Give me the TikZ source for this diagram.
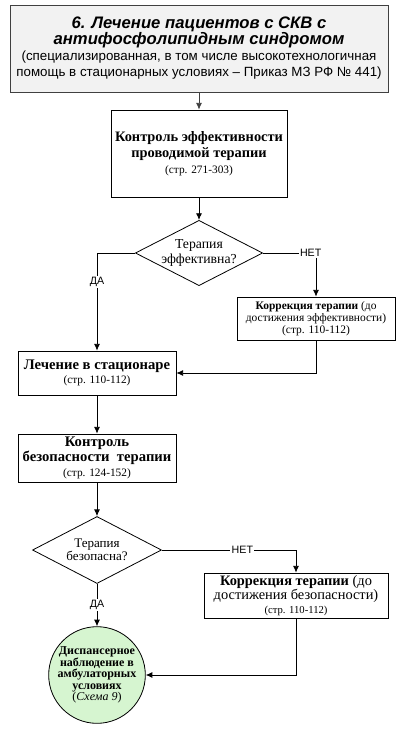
\documentclass[tikz,border=0pt]{standalone}
\usepackage{fontspec}
\setmainfont{Liberation Serif}
\setsansfont{Liberation Sans}
\usetikzlibrary{shapes.geometric,arrows.meta}
\definecolor{linegray}{RGB}{64,64,64}
\definecolor{headfill}{RGB}{242,242,242}
\definecolor{dispgreen}{RGB}{214,245,208}
\begin{document}
\begin{tikzpicture}[x=0.75pt,y=-0.75pt]

      \tikzset{box/.style={draw=black, line width=0.6pt, inner sep=0pt, align=center, fill=white},
               choice/.style={draw=black, line width=0.6pt, diamond, inner sep=0pt, align=center, aspect=1.95},
               arrow/.style={draw=black, line width=0.6pt, -{Latex[length=5pt,width=4.5pt]}},
               answer/.style={font=\sffamily\fontsize{8}{9}\selectfont, fill=white, inner sep=1pt}}
      \useasboundingbox (0,0) rectangle (400,734);
% Blocks
	%Head
      	\node[box, fill=headfill, draw=linegray, minimum width=283.5pt, minimum height=65.25pt, font=\sffamily] (b1) at (199,48.5)
      	{{\fontsize{12.5}{12.8}\selectfont\bfseries\itshape 6. Лечение пациентов с СКВ с}\\
      	 {\fontsize{12.5}{12.8}\selectfont\bfseries\itshape антифосфолипидным синдромом}\\
      	 {\fontsize{10}{11.2}\selectfont (специализированная, в том числе высокотехнологичная}\\
      	 {\fontsize{10}{11.2}\selectfont помощь в стационарных условиях – Приказ МЗ РФ № 441)}};
	%Efficiency
      	\node[box, minimum width=132pt, minimum height=65.25pt, font=\fontsize{10.8}{12}\selectfont] (b2) at (199,153.5)
      	{\textbf{Контроль эффективности}\\ \textbf{проводимой терапии}\\ {\fontsize{8.5}{9.5}\selectfont (стр. 271-303)}};
    	\node[choice, minimum width=93.75pt, minimum height=48pt, font=\fontsize{10.3}{11}\selectfont] (d1) at (199,253)
    	{Терапия\\ эффективна?};
  	    \node[box, minimum width=118.5pt, minimum height=32.25pt, font=\fontsize{8.6}{9}\selectfont] (b4) at (316,318.5)
  	    {\textbf{Коррекция терапии} (до\\ достижения эффективности)\\ (стр. 110-112)};
  	    \node[box, minimum width=118.5pt, minimum height=33pt, font=\fontsize{11}{11}\selectfont] (b3) at (97,373)
  	    {\textbf{Лечение в стационаре}\\ {\fontsize{8.5}{9}\selectfont (стр. 110-112)}};
	%Safety
		\node[box, minimum width=118.5pt, minimum height=36pt, font=\fontsize{11}{11.3}\selectfont] (b5) at (97,458)
		{\textbf{Контроль}\\ \textbf{безопасности\ \ терапии}\\ {\fontsize{8.5}{9.5}\selectfont (стр. 124-152)}};
      	\node[choice, minimum width=96.75pt, minimum height=50.25pt, font=\fontsize{9.8}{10}\selectfont] (d2) at (97,550)
      	{Терапия\\ безопасна?};
  	    \node[box, minimum width=138pt, minimum height=33.75pt, font=\fontsize{10.8}{10.5}\selectfont] (b6) at (296,595.5)
  	    {\textbf{Коррекция терапии} (до\\ достижения безопасности)\\ {\fontsize{8}{9.5}\selectfont (стр. 110-112)}};
  	    \node[circle, draw=black, line width=0.6pt, fill=dispgreen, minimum size=69pt, inner sep=0pt, align=center,
  	          font=\fontsize{9}{8.6}\selectfont\bfseries] (c1) at (97,675)
  	    {Диспансерное\\ наблюдение в\\ амбулаторных\\ условиях\\ {\mdseries (\textit{Схема 9})}};
%Arrows
	%Efficiency
		\draw[arrow, draw=linegray] (b1) -- (b2);
		\draw[arrow] (b2) -- (d1);
		\draw[arrow] (d1.west) -| node[answer, pos=0.65] {ДА} (b3.north);
		\draw[arrow] (d1.east) -| node[answer, pos=0.45] {НЕТ} (b4.north);
		\draw[arrow] (b4.south) |- (b3.east);
	%Safety
		\draw[arrow] (b3) -- (b5);
		\draw[arrow] (b5) -- (d2);
		\draw[arrow] (d2.east) -| node[answer, pos=0.3] {НЕТ} (b6.north);
		\draw[arrow] (d2) -- node[answer, pos=0.5] {ДА} (c1);
		\draw[arrow] (b6.south) |- (c1.east);

	\end{tikzpicture}
\end{document}
